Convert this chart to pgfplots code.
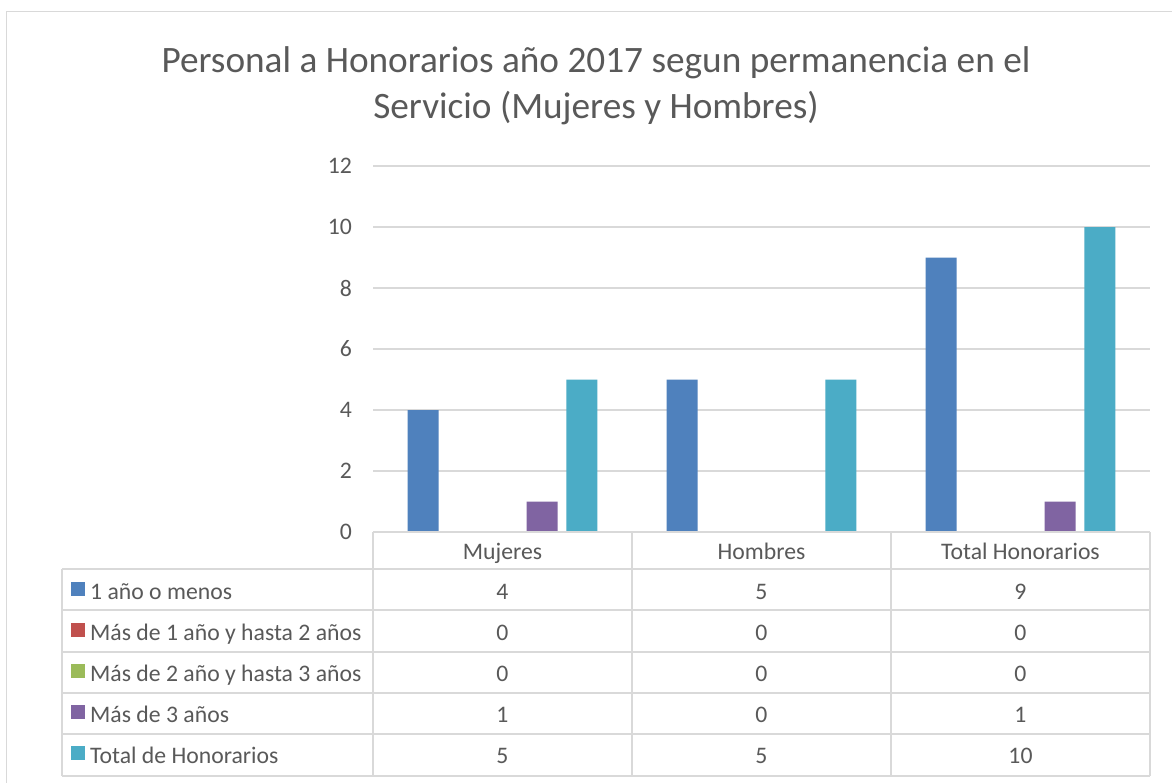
\documentclass[border=0pt]{standalone}
\usepackage{fontspec}
\setmainfont{Carlito}
\usepackage{pgfplots}
\pgfplotsset{compat=1.18}
\definecolor{tx}{HTML}{595959}
\definecolor{gr}{HTML}{D9D9D9}
\definecolor{c1}{HTML}{4F81BD}
\definecolor{c2}{HTML}{C0504D}
\definecolor{c3}{HTML}{9BBB59}
\definecolor{c4}{HTML}{8064A2}
\definecolor{c5}{HTML}{4BACC6}
\newcommand{\tf}{\fontsize{23.8}{28}\selectfont}
\begin{document}
\begin{tikzpicture}
\useasboundingbox (0,0) rectangle (1172bp,-783bp);
\begin{scope}[x=1bp,y=-1bp]
\fill[white] (0,0) rectangle (1172,783);
\draw[gr, line width=1.5bp] (6.5,1000) -- (6.5,11.5) -- (1300,11.5);
\node[anchor=base, text=tx, inner sep=0pt, font=\fontsize{37.4}{44}\selectfont] at (596,72) {Personal a Honorarios año 2017 segun permanencia en el};
\node[anchor=base, text=tx, inner sep=0pt, font=\fontsize{37.4}{44}\selectfont] at (596,118) {Servicio (Mujeres y Hombres)};
\end{scope}
\begin{axis}[
  at={(373bp,-532bp)}, anchor=south west,
  scale only axis, width=777bp, height=366bp,
  xmin=-0.5, xmax=2.5, ymin=0, ymax=12,
  enlargelimits=false,
  ytick={0,2,4,6,8,10,12}, xtick=\empty,
  axis line style={draw=none},
  major tick length=0pt,
  ymajorgrids, grid style={gr, line width=1.3bp},
  yticklabel style={text=tx, font=\tf, inner sep=0pt, anchor=east, xshift=-21bp},
  /pgf/number format/assume math mode=true,
  ybar=8.7bp, bar width=31bp,
  clip=false,
]
\addplot[fill=c1, draw=none] coordinates {(0,4) (1,5) (2,9)};
\addplot[fill=c2, draw=none] coordinates {(0,0) (1,0) (2,0)};
\addplot[fill=c3, draw=none] coordinates {(0,0) (1,0) (2,0)};
\addplot[fill=c4, draw=none] coordinates {(0,1) (1,0) (2,1)};
\addplot[fill=c5, draw=none] coordinates {(0,5) (1,5) (2,10)};
\end{axis}
\begin{scope}[x=1bp,y=-1bp]
\begin{scope}[gr, line width=1.5bp]
\draw (373,532) -- (1150,532);
\foreach \yy in {569,610,652,693,734,776} \draw (62,\yy) -- (1150,\yy);
\draw (62,569) -- (62,776);
\foreach \xx in {373,632,891,1150} \draw (\xx,532) -- (\xx,776);
\end{scope}
\foreach \xx/\lab in {502.5/Mujeres,761.5/Hombres,1020.5/Total Honorarios}
  \node[anchor=base, text=tx, inner sep=0pt, font=\tf] at (\xx,559) {\lab};
\foreach \yy/\a/\b/\c/\col/\lab in {
  599/4/5/9/c1/1 año o menos,
  640/0/0/0/c2/Más de 1 año y hasta 2 años,
  681/0/0/0/c3/Más de 2 año y hasta 3 años,
  722/1/0/1/c4/Más de 3 años,
  763/5/5/10/c5/Total de Honorarios}{
  \node[anchor=base, text=tx, inner sep=0pt, font=\tf] at (502.5,\yy) {\a};
  \node[anchor=base, text=tx, inner sep=0pt, font=\tf] at (761.5,\yy) {\b};
  \node[anchor=base, text=tx, inner sep=0pt, font=\tf] at (1020.5,\yy) {\c};
  \fill[\col] (71,\yy-17) rectangle (85,\yy-3);
  \node[anchor=base west, text=tx, inner sep=0pt, font=\tf] at (90,\yy) {\lab};
}
\end{scope}
\end{tikzpicture}
\end{document}
